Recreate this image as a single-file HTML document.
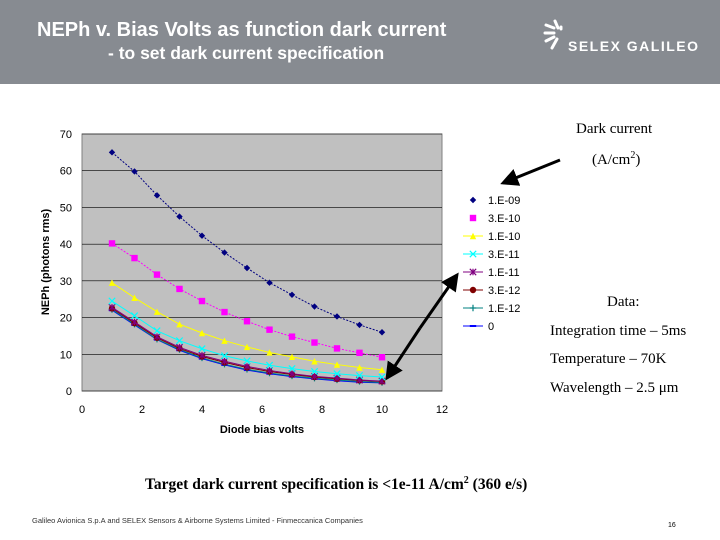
<!DOCTYPE html>
<html><head><meta charset="utf-8"><style>
body{margin:0;width:720px;height:540px;background:#fff;position:relative;overflow:hidden;font-family:"Liberation Sans",sans-serif}
.abs{position:absolute}
.serif{font-family:"Liberation Serif",serif;color:#000}
</style></head><body>
<div class="abs" style="left:0;top:0;width:720px;height:84px;background:#878b91"></div>
<div class="abs" style="left:37px;top:19px;color:#fff;font-weight:bold;font-size:20px">NEPh v. Bias Volts as function dark current</div>
<div class="abs" style="left:108px;top:43px;color:#fff;font-weight:bold;font-size:17.5px">- to set dark current specification</div>
<svg class="abs" style="left:543px;top:18px" width="30" height="34" viewBox="0 0 30 34">
<g stroke="#fff" stroke-width="3" stroke-linecap="round">
<line x1="3" y1="7" x2="11" y2="10"/><line x1="12" y1="3" x2="15" y2="10"/><line x1="2" y1="15" x2="11" y2="15"/><line x1="3" y1="23" x2="11" y2="19"/><line x1="9" y1="30" x2="14" y2="21"/><line x1="18" y1="9" x2="18" y2="11"/></g></svg>
<div class="abs" style="left:568px;top:38px;color:#fff;font-size:14px;letter-spacing:1.5px;font-weight:bold">SELEX GALILEO</div>

<svg class="abs" id="chart" style="left:0;top:0" width="720" height="540"></svg>

<div class="abs serif" style="left:576px;top:121px;font-size:15px">Dark current</div>
<div class="abs serif" style="left:592px;top:150px;font-size:15px">(A/cm<sup style="font-size:10px">2</sup>)</div>
<div class="abs serif" style="left:607px;top:294px;font-size:15px">Data:</div>
<div class="abs serif" style="left:550px;top:323px;font-size:15px">Integration time – 5ms</div>
<div class="abs serif" style="left:550px;top:351px;font-size:15px">Temperature – 70K</div>
<div class="abs serif" style="left:550px;top:380px;font-size:15px">Wavelength – 2.5 μm</div>
<div class="abs serif" style="left:145px;top:475px;font-size:15.5px;font-weight:bold">Target dark current specification is &lt;1e-11 A/cm<sup style="font-size:10px">2</sup> (360 e/s)</div>
<div class="abs" style="left:32px;top:516px;font-size:7.5px;color:#333">Galileo Avionica S.p.A and SELEX Sensors &amp; Airborne Systems Limited - Finmeccanica Companies</div>
<div class="abs" style="left:668px;top:522px;font-size:7px;color:#000">16</div>

<script>
const xValues=[1,1.75,2.5,3.25,4,4.75,5.5,6.25,7,7.75,8.5,9.25,10];
const seriesNames=["1.E-09","3.E-10","1.E-10","3.E-11","1.E-11","3.E-12","1.E-12","0"];
const s1=[65,59.8,53.3,47.5,42.3,37.7,33.5,29.5,26.2,23,20.3,18,16];
const s2=[40.2,36.2,31.7,27.8,24.5,21.5,19,16.7,14.8,13.2,11.6,10.4,9.2];
const s3=[29.5,25.4,21.6,18.2,15.8,13.7,12,10.5,9.3,8.1,7.2,6.4,5.8];
const s4=[24.5,20.5,16.4,13.7,11.5,9.6,8.2,7,6.1,5.3,4.7,4.2,3.8];
const s5=[22.8,18.8,14.8,11.9,9.7,8.1,6.7,5.6,4.7,4,3.5,3,2.7];
const s6=[22.5,18.5,14.5,11.6,9.4,7.8,6.4,5.3,4.5,3.8,3.3,2.9,2.6];
const s7=[22.2,18.2,14.1,11.3,9,7.3,5.9,4.9,4.1,3.5,3,2.6,2.3];
const s8=[22,18,14,11.1,8.8,7.1,5.7,4.7,3.9,3.3,2.8,2.4,2.2];
const xTicks=[0,2,4,6,8,10,12];
const yTicks=[0,10,20,30,40,50,60,70];
const allSeries=[s1,s2,s3,s4,s5,s6,s7,s8];
const colors=["#000080","#ff00ff","#ffff00","#00ffff","#800080","#800000","#008080","#0000ff"];
const markers=["diamond","square","triangle","x","star","circle","plus","dash"];
const X0=82,X1=442,Y0=391,Y1=134;
const sx=v=>X0+(v-0)/12*(X1-X0);
const sy=v=>Y0-(v-0)/70*(Y0-Y1);
const svg=document.getElementById('chart');
const NS="http://www.w3.org/2000/svg";
function mk(t,a,p){const e=document.createElementNS(NS,t);for(const k in a)e.setAttribute(k,a[k]);(p||svg).appendChild(e);return e;}
let e=mk('rect',{x:X0,y:Y1,width:X1-X0,height:Y0-Y1,fill:'#c0c0c0',stroke:'#808080'});


yTicks.forEach(t=>{
  const g=mk('line',{x1:X0,x2:X1,y1:sy(t),y2:sy(t),stroke:'#000','stroke-width':0.6});
  
  
  const l=mk('text',{x:X0-10,y:sy(t)+4,'text-anchor':'end','font-size':11,fill:'#000','font-family':'Liberation Sans'});
  l.textContent=t;
  
  
});
xTicks.forEach(t=>{
  const l=mk('text',{x:sx(t),y:Y0+22,'text-anchor':'middle','font-size':11,fill:'#000','font-family':'Liberation Sans'});
  l.textContent=t;
  
  
});
let xt=mk('text',{x:262,y:433,'text-anchor':'middle','font-size':11,'font-weight':'bold',fill:'#000','font-family':'Liberation Sans'});
xt.textContent='Diode bias volts';


let yt=mk('text',{x:0,y:0,transform:'translate(49,262) rotate(-90)','text-anchor':'middle','font-size':11,'font-weight':'bold',fill:'#000','font-family':'Liberation Sans'});
yt.textContent='NEPh (photons rms)';


function marker(type,x,y,c,p){
  const r=3.2;
  if(type==='diamond')mk('polygon',{points:`${x},${y-r} ${x+r},${y} ${x},${y+r} ${x-r},${y}`,fill:c},p);
  else if(type==='square')mk('rect',{x:x-r,y:y-r,width:2*r,height:2*r,fill:c},p);
  else if(type==='triangle')mk('polygon',{points:`${x},${y-r} ${x+r},${y+r} ${x-r},${y+r}`,fill:c},p);
  else if(type==='circle')mk('circle',{cx:x,cy:y,r:r,fill:c},p);
  else if(type==='x'){mk('path',{d:`M${x-r} ${y-r}L${x+r} ${y+r}M${x-r} ${y+r}L${x+r} ${y-r}`,stroke:c,'stroke-width':1.2},p);}
  else if(type==='star'){mk('path',{d:`M${x-r} ${y-r}L${x+r} ${y+r}M${x-r} ${y+r}L${x+r} ${y-r}M${x} ${y-r}L${x} ${y+r}`,stroke:c,'stroke-width':1.2},p);}
  else if(type==='plus'){mk('path',{d:`M${x-r} ${y}L${x+r} ${y}M${x} ${y-r}L${x} ${y+r}`,stroke:c,'stroke-width':1.2},p);}
  else mk('rect',{x:x-r,y:y-1,width:2*r,height:2,fill:c},p);
}
for(let i=allSeries.length-1;i>=0;i--){
  const g=mk('g',{});
  
  
  const d=allSeries[i].map((v,j)=>(j?'L':'M')+sx(xValues[j])+' '+sy(v)).join('');
  mk('path',{d:d,fill:'none',stroke:colors[i],'stroke-width':1,'stroke-dasharray':i<2?'2,1.5':'none'},g);
  allSeries[i].forEach((v,j)=>marker(markers[i],sx(xValues[j]),sy(v),colors[i],g));
}
seriesNames.forEach((n,i)=>{
  const y=200+i*18;
  const g=mk('g',{});
  
  
  if(i>=2)mk('line',{x1:463,x2:483,y1:y,y2:y,stroke:colors[i],'stroke-width':1},g);
  marker(markers[i],473,y,colors[i],g);
  const t=mk('text',{x:488,y:y+4,'font-size':11,fill:'#000','font-family':'Liberation Sans'},g);
  t.textContent=n;
});
mk('defs',{}).innerHTML='<marker id="ah" markerWidth="6" markerHeight="6" refX="5" refY="3" orient="auto"><path d="M0 0L6 3L0 6z" fill="#000"/></marker>';
let a1=mk('line',{x1:560,y1:160,x2:503,y2:183,stroke:'#000','stroke-width':3,'marker-end':'url(#ah)'});


let a2=mk('line',{x1:420,y1:328,x2:387,y2:378,stroke:'#000','stroke-width':3,'marker-end':'url(#ah)'});


let a3=mk('line',{x1:420,y1:328,x2:457,y2:275,stroke:'#000','stroke-width':3,'marker-end':'url(#ah)'});


</script>
</body></html>
